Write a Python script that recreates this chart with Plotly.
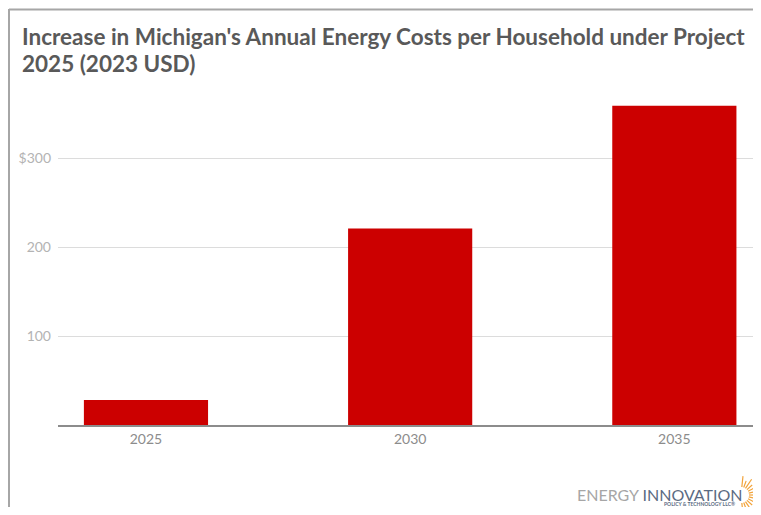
import plotly.graph_objects as go
import math

years = ["2025", "2030", "2035"]
cost_increase = [28, 221, 359]
y_tick_vals = [100, 200, 300]
y_tick_text = ["100", "200", "$300"]

# the page body keeps its default 8px margin, so the figure is sized to fit the window
OFF = 8
W, H = 761 - OFF, 515 - 2 * OFF
ML, MR, MT, MB = 50, 0, 79, 82

fig = go.Figure()
fig.add_trace(go.Bar(
    x=years, y=cost_increase,
    marker=dict(color="#cc0000", line=dict(width=0)),
    hoverinfo="x+y",
))

pw = W - ML - MR
ph = H - MT - MB
def px2x(px):  # page pixel -> paper x
    return (px - OFF - ML) / pw
def py2y(py):  # page pixel -> paper y
    return (H - MB - (py - OFF)) / ph

shapes = [
    dict(type="line", xref="paper", yref="paper", x0=px2x(9), x1=px2x(9), y0=py2y(9), y1=py2y(530),
         line=dict(color="#a6a6a6", width=2)),
    dict(type="line", xref="paper", yref="paper", x0=px2x(9), x1=1.0, y0=py2y(9.5), y1=py2y(9.5),
         line=dict(color="#a6a6a6", width=2)),
]
# sunburst of logo
cx, cy = 741, 495
for i in range(13):
    a = math.radians(-84 + i * 14)
    r0 = 8
    r1 = r0 + (11 if i % 2 == 0 else 7)
    shapes.append(dict(type="line", xref="paper", yref="paper",
                       x0=px2x(cx + r0 * math.cos(a)), y0=py2y(cy - r0 * math.sin(a)),
                       x1=px2x(cx + r1 * math.cos(a)), y1=py2y(cy - r1 * math.sin(a)),
                       line=dict(color="#f2a33a", width=1.2)))

title_font = dict(family="Lato", size=22.5, color="#595959")
fig.update_layout(
    width=W, height=H,
    margin=dict(l=ML, r=MR, t=MT, b=MB),
    paper_bgcolor="white", plot_bgcolor="white",
    bargap=0.53,
    showlegend=False,
    font=dict(family="Lato, 'Open Sans', sans-serif", color="#a6a6a6"),
    xaxis=dict(
        type="category", range=[-0.333, 2.328],
        showgrid=False, showline=True, linecolor="#8c8c8c", linewidth=1.5,
        ticks="", tickfont=dict(size=14, color="#8c8c8c"),
        fixedrange=True,
    ),
    yaxis=dict(
        range=[0, 380], tickvals=y_tick_vals, ticktext=y_tick_text,
        showgrid=True, gridcolor="#dcdcdc", gridwidth=1, zeroline=False,
        showline=False, ticks="", tickfont=dict(size=14, color="#b3b3b3"),
        ticklabelstandoff=6, fixedrange=True,
    ),
    shapes=shapes,
    annotations=[
        dict(xref="paper", yref="paper", x=px2x(20), y=py2y(37), xanchor="left", yanchor="middle",
             align="left", showarrow=False,
             text="<b>Increase in Michigan's Annual Energy Costs per Household under Project</b>",
             font=title_font),
        dict(xref="paper", yref="paper", x=px2x(20), y=py2y(63), xanchor="left", yanchor="middle",
             align="left", showarrow=False,
             text="<b>2025 (2023 USD)</b>",
             font=title_font),
        dict(xref="paper", yref="paper", x=px2x(745), y=py2y(494), xanchor="right", yanchor="middle",
             showarrow=False,
             text="<span style='color:#a6a6a6'>ENERGY</span> <span style='color:#5b6b82'>INNOVATION</span>",
             font=dict(family="Lato", size=16)),
        dict(xref="paper", yref="paper", x=px2x(737), y=py2y(504), xanchor="right", yanchor="middle",
             showarrow=False, text="<b>POLICY &amp; TECHNOLOGY LLC®</b>",
             font=dict(family="Lato", size=5, color="#5b6b82")),
    ],
)
fig.write_html("out.html", config={"displayModeBar": False})
